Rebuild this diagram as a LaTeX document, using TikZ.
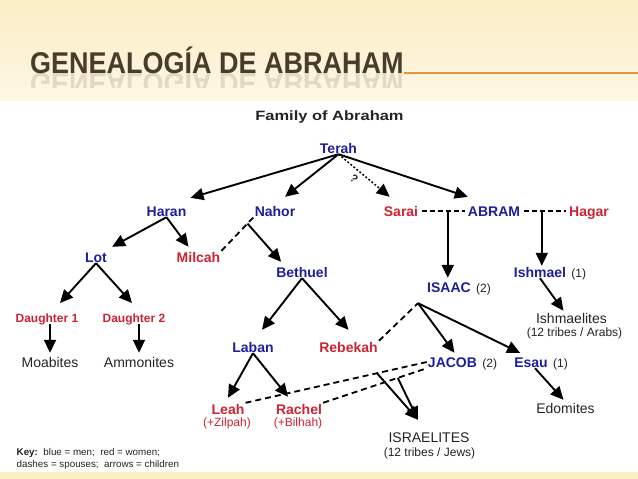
\documentclass[tikz,border=0pt]{standalone}
\usepackage{fontspec}
\usepackage{graphicx}
\setmainfont{Liberation Sans}
\usetikzlibrary{arrows.meta,calc}

\definecolor{manblue}{RGB}{30,30,155}
\definecolor{womanred}{RGB}{205,35,50}
\definecolor{inkgrey}{RGB}{35,35,35}
\definecolor{titlebrown}{RGB}{74,60,42}
\definecolor{titleline}{RGB}{230,150,60}
\definecolor{creamtop}{RGB}{251,238,196}
\definecolor{creambot}{RGB}{253,247,228}

\tikzset{
  man/.style={font=\bfseries\fontsize{14}{14}\selectfont, text=manblue, inner sep=1pt, text height=10pt, text depth=0pt},
  woman/.style={man, text=womanred},
  daughter/.style={woman, font=\bfseries\fontsize{12}{12}\selectfont, text height=8.6pt},
  tribe/.style={font=\fontsize{14}{14}\selectfont, text=inkgrey, inner sep=1pt, text height=10pt, text depth=0pt},
  note/.style={font=\fontsize{12}{12}\selectfont, text=inkgrey, inner sep=1pt},
  child/.style={line width=1.9pt, -{Triangle[length=13pt,width=12pt]}},
  spouse/.style={line width=1.8pt, dash pattern=on 6pt off 4pt},
  wed/.style={line width=1.3pt, dash pattern=on 4.5pt off 3.5pt, shorten <=3pt, shorten >=2pt},
}

\begin{document}
\begin{tikzpicture}[x=1pt,y=-1pt]
\useasboundingbox (0,0) rectangle (638,479);
% slide background
\fill[top color=creamtop, bottom color=creambot] (0,0) rectangle (638,100);
\fill[creamtop] (0,472) rectangle (638,479);

% title with its reflection
\node[anchor=base west, inner sep=0pt, font=\bfseries\fontsize{30}{30}\selectfont, text=titlebrown] (title) at (30,73) {\scalebox{0.9}[1]{GENEALOGÍA DE ABRAHAM}};
\begin{scope}
\clip (0,73) rectangle (638,87);
\node[anchor=base west, inner sep=0pt, font=\bfseries\fontsize{30}{30}\selectfont, text=titlebrown, text opacity=0.15] (mirror) at (30,73) {\scalebox{0.9}[-1]{GENEALOGÍA DE ABRAHAM}};
\end{scope}
\draw[titleline, line width=1.2pt] (title.base east) -- ++(240,0);

\node[font=\bfseries\fontsize{13.5}{13.5}\selectfont, text=inkgrey] (family) at (329.5,117) {\scalebox{1.22}[1]{Family of Abraham}};

% people
\node[man] (terah) at (338.5,148) {Terah};
\node[man] (haran) at (166.5,211) {Haran};
\node[man] (nahor) at (275,211) {Nahor};
\node[woman] (sarai) at (401,211) {Sarai};
\node[man] (abram) at (494,211) {ABRAM};
\node[woman] (hagar) at (589,211) {Hagar};
\node[man] (lot) at (96,257) {Lot};
\node[woman] (milcah) at (198.5,257) {Milcah};
\node[man] (bethuel) at (302,272) {Bethuel};
\node[man] (ishmael) at (540,272) {Ishmael};
\node[note, anchor=base west] (ishmaelnum) at ([xshift=3pt]ishmael.base east) {(1)};
\node[man] (isaac) at (449,287) {ISAAC};
\node[note, anchor=base west] (isaacnum) at ([xshift=3pt]isaac.base east) {(2)};
\node[daughter] (daughter1) at (47,318.5) {Daughter 1};
\node[daughter] (daughter2) at (134,318.5) {Daughter 2};
\node[tribe] (moabites) at (50,362) {Moabites};
\node[tribe] (ammonites) at (139,362) {Ammonites};
\node[tribe] (ishmaelites) at (571.5,318) {Ishmaelites};
\node[note] (arabs) at (574.5,333) {(12 tribes / Arabs)};
\node[man] (laban) at (253,347) {Laban};
\node[woman] (rebekah) at (348.5,347) {Rebekah};
\node[man] (jacob) at (452.5,362) {JACOB};
\node[note, anchor=base west] (jacobnum) at ([xshift=3pt]jacob.base east) {(2)};
\node[man] (esau) at (531,362) {Esau};
\node[note, anchor=base west] (esaunum) at ([xshift=3pt]esau.base east) {(1)};
\node[tribe] (edomites) at (565.5,408) {Edomites};
\node[woman] (leah) at (228,409) {Leah};
\node[note, text=womanred] (zilpah) at (227,423.5) {(+Zilpah)};
\node[woman] (rachel) at (299,409) {Rachel};
\node[note, text=womanred] (bilhah) at (298,423.5) {(+Bilhah)};
\node[tribe] (israelites) at (429,437) {ISRAELITES};
\node[note] (jews) at (429.5,453) {(12 tribes / Jews)};

\node[anchor=west, align=left, inner sep=0pt, font=\fontsize{9.8}{12.3}\selectfont, text=inkgrey] (key) at (16.5,459)
  {\textbf{Key:}\ \ blue = men;\ \ red = women;\\dashes = spouses;\ \ arrows = children};

% Terah's children
\draw[child] (terah.south) -- ([xshift=3pt,yshift=7pt]haran.north east);
\draw[child] (terah.south) -- ([xshift=10pt,yshift=8pt]nahor.north);
\draw[child, dotted, line width=1.5pt] (terah.south) -- node[pos=0.42, sloped, below=1pt, font=\bfseries\fontsize{11}{11}\selectfont, text=inkgrey] (unsure) {?} ([xshift=7pt,yshift=8pt]sarai.north west);
\draw[child] (terah.south) -- ([xshift=1pt,yshift=8pt]abram.north west);

% Abram's wives
\draw[wed] (sarai.east) -- coordinate[pos=0.6] (sarai-abram) (abram.west);
\draw[wed] (abram.east) -- coordinate[pos=0.44] (abram-hagar) (hagar.west);
\draw[child] (sarai-abram) -- ([yshift=3pt]sarai-abram |- isaac.north);
\draw[child] (abram-hagar) -- (abram-hagar |- ishmael.north);
\draw[child] (ishmael.south) -- ([xshift=-8pt,yshift=1pt]ishmaelites.north);

% Haran and Nahor
\draw[child] (haran.south) -- ([xshift=4pt,yshift=4pt]lot.north east);
\draw[child] (haran.south) -- ([xshift=-10pt,yshift=4pt]milcah.north);
\draw[spouse] (milcah.north east) -- coordinate[pos=0.81] (milcah-nahor) (nahor.south west);
\draw[child] (milcah-nahor) -- ([xshift=6pt,yshift=4pt]bethuel.north west);
\draw[child] (lot.south) -- ([xshift=13pt,yshift=10pt]daughter1.north);
\draw[child] (lot.south) -- ([xshift=-2pt,yshift=10pt]daughter2.north);
\draw[child] (moabites.north |- daughter1.south) -- ([yshift=3pt]moabites.north);
\draw[child] (ammonites.north |- daughter2.south) -- ([yshift=3pt]ammonites.north);

% Bethuel, Isaac and Jacob
\draw[child] (bethuel.south) -- ([xshift=9pt,yshift=11pt]laban.north);
\draw[child] (bethuel.south) -- ([yshift=11pt]rebekah.north);
\coordinate (isaac-root) at ([xshift=-8pt,yshift=-10pt]isaac.south west);
\draw[spouse] (rebekah.north east) -- (isaac-root);
\draw[child] (isaac-root) -- ([xshift=2pt,yshift=3pt]jacob.north);
\draw[child] (isaac-root) -- ([xshift=7pt,yshift=3pt]esau.north west);
\draw[child] ([xshift=4pt]esau.south) -- ([xshift=-2pt,yshift=2pt]edomites.north);
\draw[child] (laban.south) -- ([yshift=5pt]leah.north);
\draw[child] (laban.south) -- ([xshift=-11pt,yshift=6pt]rachel.north);
\draw[spouse] (leah.north east) -- coordinate[pos=0.725] (leah-jacob) (jacob.west);
\draw[spouse] (rachel.north east) -- coordinate[pos=0.72] (rachel-jacob) (jacob.south west);
\draw[child] (leah-jacob) -- ([xshift=-11pt,yshift=11pt]israelites.north);
\draw[child] (rachel-jacob) -- ([xshift=-11pt,yshift=11pt]israelites.north);
\end{tikzpicture}
\end{document}
